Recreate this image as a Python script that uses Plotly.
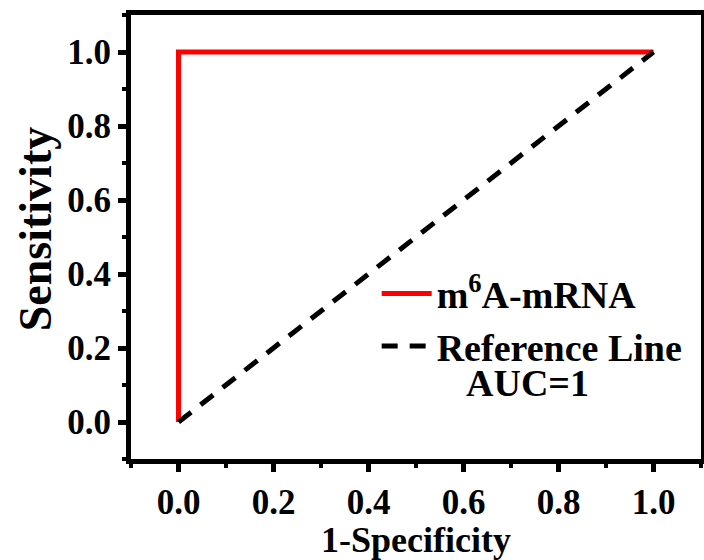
import plotly.graph_objects as go

roc_x = [0, 0, 1]
roc_y = [0, 1, 1]
ref_x = [0, 1]
ref_y = [0, 1]
roc_name = "m<sup>6</sup>A-mRNA"
ref_name = "Reference Line"
auc_text = "AUC=1"
x_title = "1-Specificity"
y_title = "Sensitivity"
tick_vals = [0.0, 0.2, 0.4, 0.6, 0.8, 1.0]
tick_text = ["0.0", "0.2", "0.4", "0.6", "0.8", "1.0"]

FONT = "Liberation Serif"

fig = go.Figure()
fig.add_trace(go.Scatter(x=roc_x, y=roc_y, mode="lines", name=roc_name,
                         line=dict(color="#ff0000", width=5)))
fig.add_trace(go.Scatter(x=ref_x, y=ref_y, mode="lines", name=ref_name,
                         line=dict(color="black", width=5, dash="16px,12px")))

axis_common = dict(
    range=[-0.1, 1.1], showgrid=False, zeroline=False, automargin=False,
    showline=True, linewidth=5, linecolor="black", mirror=True,
    ticks="outside", ticklen=8, tickwidth=5, tickcolor="black",
    tickvals=tick_vals, ticktext=tick_text,
    tickfont=dict(family=FONT, size=35, color="black", weight="bold"),
    minor=dict(ticks="outside", ticklen=4, tickwidth=4, tickcolor="black",
               dtick=0.1, tick0=0.1, showgrid=False),
)

fig.update_layout(
    width=704, height=560,
    margin=dict(l=131, r=3, t=15, b=101),
    plot_bgcolor="white", paper_bgcolor="white",
    font=dict(family=FONT, color="black", weight="bold"),
    xaxis=dict(axis_common, title=dict(text=x_title, standoff=6,
                                       font=dict(family=FONT, size=36, color="black", weight="bold"))),
    yaxis=dict(axis_common),
    showlegend=True,
    legend=dict(x=0.431, y=0.443, xanchor="left", yanchor="top",
                bgcolor="rgba(0,0,0,0)", borderwidth=0,
                font=dict(family=FONT, size=38, color="black", weight="bold"),
                itemwidth=50, tracegroupgap=0),
    annotations=[
        dict(text=auc_text, xref="paper", yref="paper",
             x=0.585, y=0.172, xanchor="left", yanchor="middle",
             showarrow=False, font=dict(family=FONT, size=38, color="black", weight="bold")),
        dict(text=y_title, xref="paper", yref="paper", textangle=-90,
             x=-0.168, y=0.518, xanchor="center", yanchor="middle",
             showarrow=False, font=dict(family=FONT, size=46, color="black", weight="bold")),
    ],
)

fig.write_html("out.html")
